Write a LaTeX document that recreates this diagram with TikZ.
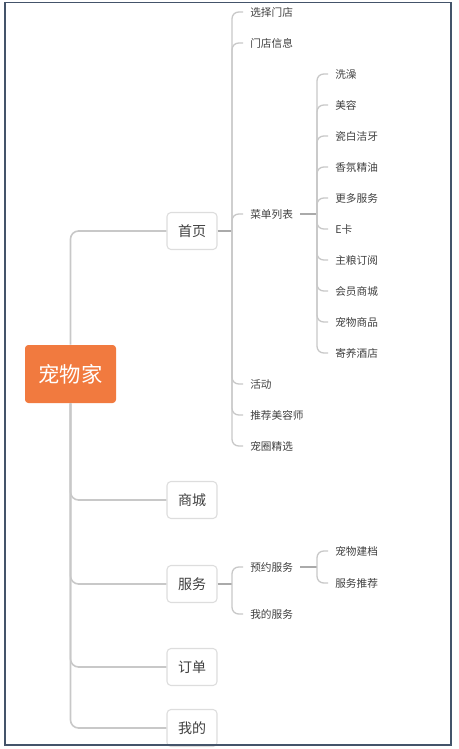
\documentclass[tikz,border=0pt]{standalone}
\usepackage{fontspec}
\setmainfont{Noto Sans CJK SC}
\usepackage{xcolor}
\definecolor{rootorange}{RGB}{241,122,63}
\definecolor{framenavy}{RGB}{68,84,106}
\definecolor{boxgray}{RGB}{221,221,221}
\definecolor{linelight}{RGB}{200,200,200}
\definecolor{linemid}{RGB}{170,170,170}
\definecolor{txtgray}{RGB}{64,64,64}

\tikzset{
  rootnode/.style={fill=rootorange, draw=none, rounded corners=2.5pt, text=white,
    minimum width=68.25pt, minimum height=43.5pt, font=\fontsize{16}{18}\selectfont},
  topicbox/.style={fill=white, draw=boxgray, line width=0.8pt, rounded corners=3pt, text=txtgray,
    minimum width=37.5pt, minimum height=27.75pt, font=\fontsize{10.5}{12}\selectfont},
  leaf/.style={anchor=west, inner xsep=5.25pt, inner ysep=1pt, text=txtgray,
    font=\fontsize{8}{9}\selectfont},
  trunk/.style={draw=linelight, line width=1.2pt, rounded corners=6pt},
  stub/.style={draw=linemid, line width=1.6pt},
  twig/.style={draw=linelight, line width=1pt, rounded corners=5pt},
}

\begin{document}
\begin{tikzpicture}[x=0.75pt,y=0.75pt,yscale=-1,xscale=1]
\useasboundingbox (0,0) rectangle (458,749);

% Root
\node[rootnode] (root) at (70.5,374) {宠物家};

% Main topics
\node[topicbox] (shouye) at (192,231) {首页};
\node[topicbox] (shangcheng) at (192,500) {商城};
\node[topicbox] (fuwu) at (192,584) {服务};
\node[topicbox] (dingdan) at (192,667) {订单};
\node[topicbox] (wode) at (192,728) {我的};

% Root connectors
\draw[trunk] (root.north) |- (shouye.west);
\draw[trunk] (root.south) |- (shangcheng.west);
\draw[trunk] (root.south) |- (fuwu.west);
\draw[trunk] (root.south) |- (dingdan.west);
\draw[trunk] (root.south) |- (wode.west);

% Home page items
\node[leaf] (xzmd) at (243,12) {选择门店};
\node[leaf] (mdxx) at (243,43) {门店信息};
\node[leaf] (cdlb) at (243,214) {菜单列表};
\node[leaf] (hd) at (243,384) {活动};
\node[leaf] (tjmrs) at (243,415) {推荐美容师};
\node[leaf] (cqjx) at (243,446) {宠圈精选};

\coordinate (syj) at (232,231);
\draw[stub] (shouye.east) -- (syj);
\draw[twig] (syj) |- (xzmd.west);
\draw[twig] (syj) |- (mdxx.west);
\draw[twig] (syj) |- (cdlb.west);
\draw[twig] (syj) |- (hd.west);
\draw[twig] (syj) |- (tjmrs.west);
\draw[twig] (syj) |- (cqjx.west);

% Menu list items
\node[leaf] (xz) at (328,74) {洗澡};
\node[leaf] (mr) at (328,105) {美容};
\node[leaf] (cbjy) at (328,136) {瓷白洁牙};
\node[leaf] (xfjy) at (328,167) {香氛精油};
\node[leaf] (gdfw) at (328,198) {更多服务};
\node[leaf] (ek) at (328,229) {E卡};
\node[leaf] (zldy) at (328,260) {主粮订阅};
\node[leaf] (hysc) at (328,291) {会员商城};
\node[leaf] (cwsp) at (328,322) {宠物商品};
\node[leaf] (jyjd) at (328,353) {寄养酒店};

\coordinate (cdj) at (317,214);
\draw[stub, line width=1.2pt] (cdlb.east) -- (cdj);
\draw[twig] (cdj) |- (xz.west);
\draw[twig] (cdj) |- (mr.west);
\draw[twig] (cdj) |- (cbjy.west);
\draw[twig] (cdj) |- (xfjy.west);
\draw[twig] (cdj) |- (gdfw.west);
\draw[twig] (cdj) |- (ek.west);
\draw[twig] (cdj) |- (zldy.west);
\draw[twig] (cdj) |- (hysc.west);
\draw[twig] (cdj) |- (cwsp.west);
\draw[twig] (cdj) |- (jyjd.west);

% Service items
\node[leaf] (yyfw) at (243,567) {预约服务};
\node[leaf] (wdfw) at (243,614) {我的服务};

\coordinate (fwj) at (232,584);
\draw[stub] (fuwu.east) -- (fwj);
\draw[twig] (fwj) |- (yyfw.west);
\draw[twig] (fwj) |- (wdfw.west);

\node[leaf] (cwjd) at (328,551) {宠物建档};
\node[leaf] (fwtj) at (328,583) {服务推荐};

\coordinate (yyj) at (317,567);
\draw[stub, line width=1.2pt] (yyfw.east) -- (yyj);
\draw[twig] (yyj) |- (cwjd.west);
\draw[twig] (yyj) |- (fwtj.west);

% Frame
\draw[framenavy, line width=1.2pt] (5,2.5) rectangle (451,745);

\end{tikzpicture}
\end{document}
